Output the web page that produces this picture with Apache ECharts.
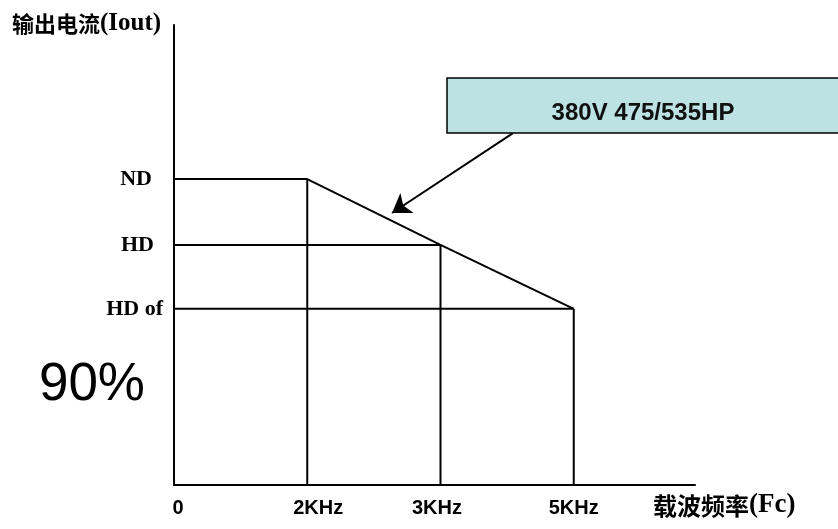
<!DOCTYPE html>
<html>
<head>
<meta charset="utf-8">
<script src="https://cdn.jsdelivr.net/npm/echarts@6/dist/echarts.min.js"></script>
<style>html,body{margin:0;padding:0;background:#fff}#c{width:838px;height:529px}</style>
</head>
<body>
<div id="c"></div>
<script>
// Carrier frequency tick labels and their (schematic, evenly spaced) positions on the x axis
const freqLabels = ['0', '2KHz', '3KHz', '5KHz'];
const freqPos = [0, 1, 2, 3];
// Output current levels (schematic units, 0-100 axis)
const levelNames = ['ND', 'HD', 'HD of', '90%'];
const levelValues = [66.5, 52.2, 38.3, 21.6];
// Output current at each carrier frequency (derating curve)
const curveLevels = [66.5, 66.5, 52.2, 38.3];
const boxText = '380V 475/535HP';

const black = '#000';
const lineStyle = { color: black, width: 2 };

const curve = freqPos.map((x, i) => [x, curveLevels[i]]);
const series = [{
  type: 'line', data: curve, symbol: 'none', lineStyle: lineStyle, silent: true,
  markLine: {
    silent: true, symbol: ['none', 'arrow'], symbolSize: 18,
    label: { show: false },
    lineStyle: { color: black, width: 2, type: 'solid' },
    data: [[{ coord: [2.544, 76.5] }, { coord: [1.636, 59.13] }]]
  }
}];
// vertical drop lines from the curve to the axis
for (let i = 1; i < freqPos.length; i++) {
  series.push({ type: 'line', symbol: 'none', lineStyle: lineStyle, silent: true,
    data: [[freqPos[i], curveLevels[i]], [freqPos[i], 0]] });
}
// horizontal reference lines for HD and HD of
series.push({ type: 'line', symbol: 'none', lineStyle: lineStyle, silent: true,
  data: [[0, levelValues[1]], [freqPos[2], levelValues[1]]] });
series.push({ type: 'line', symbol: 'none', lineStyle: lineStyle, silent: true,
  data: [[0, levelValues[2]], [freqPos[3], levelValues[2]]] });

const serifBold = { fontFamily: 'Liberation Serif', fontWeight: 'bold', fontSize: 22, color: black };
const chart = echarts.init(document.getElementById('c'));
chart.setOption({
  animation: false,
  backgroundColor: '#fff',
  title: [{
    left: 12, top: 11, padding: 0,
    text: '{cn|输出电流}{en|(Iout)}',
    textStyle: { rich: {
      cn: { fontFamily: 'Noto Sans CJK SC', fontWeight: 'bold', fontSize: 22, color: black },
      en: { fontFamily: 'Liberation Serif', fontWeight: 'bold', fontSize: 25, color: black }
    } }
  }, {
    left: 653, top: 492, padding: 0,
    text: '{cn|载波频率}{en|(Fc)}',
    textStyle: { rich: {
      cn: { fontFamily: 'Noto Sans CJK SC', fontWeight: 'bold', fontSize: 24, color: black },
      en: { fontFamily: 'Liberation Serif', fontWeight: 'bold', fontSize: 27, color: black }
    } }
  }],
  grid: { left: 174, right: 143, top: 25, bottom: 44, containLabel: false },
  xAxis: {
    type: 'value', min: 0, max: 3.91,
    splitLine: { show: false },
    axisTick: { show: false },
    axisLine: { lineStyle: { color: black, width: 2 } },
    axisLabel: {
      customValues: freqPos,
      margin: 13,
      formatter: v => {
        const i = Math.round(v);
        return '{t' + i + '|' + freqLabels[i] + '}';
      },
      rich: {
        t0: { fontFamily: 'Liberation Sans', fontWeight: 'bold', fontSize: 20, color: black, padding: [0, 0, 0, 8] },
        t1: { fontFamily: 'Liberation Sans', fontWeight: 'bold', fontSize: 20, color: black, padding: [0, 0, 0, 22] },
        t2: { fontFamily: 'Liberation Sans', fontWeight: 'bold', fontSize: 20, color: black, padding: [0, 7, 0, 0] },
        t3: { fontFamily: 'Liberation Sans', fontWeight: 'bold', fontSize: 20, color: black }
      }
    }
  },
  yAxis: {
    type: 'value', min: 0, max: 100,
    splitLine: { show: false },
    axisTick: { show: false },
    axisLine: { show: true, lineStyle: { color: black, width: 2 } },
    axisLabel: {
      customValues: levelValues,
      margin: 0,
      formatter: v => {
        const i = levelValues.indexOf(v);
        return '{l' + i + '|' + levelNames[i] + '}';
      },
      rich: {
        l0: Object.assign({}, serifBold, { padding: [0, 22, 0, 0] }),
        l1: Object.assign({}, serifBold, { padding: [0, 20, 0, 0] }),
        l2: Object.assign({}, serifBold, { padding: [0, 11, 0, 0] }),
        l3: { fontFamily: 'Liberation Sans', fontSize: 53, color: black, padding: [0, 29, 0, 0] }
      }
    }
  },
  graphic: [{
    type: 'rect', silent: true,
    shape: { x: 447, y: 78, width: 420, height: 55 },
    style: { fill: '#bde2e4', stroke: black, lineWidth: 1.5 },
    z: 10
  }, {
    type: 'text', silent: true, x: 643, y: 113, z: 11,
    style: { text: boxText, fontFamily: 'Liberation Sans', fontWeight: 'bold', fontSize: 24,
      fill: '#111', align: 'center', verticalAlign: 'middle' }
  }],
  series: series
});
</script>
</body>
</html>
